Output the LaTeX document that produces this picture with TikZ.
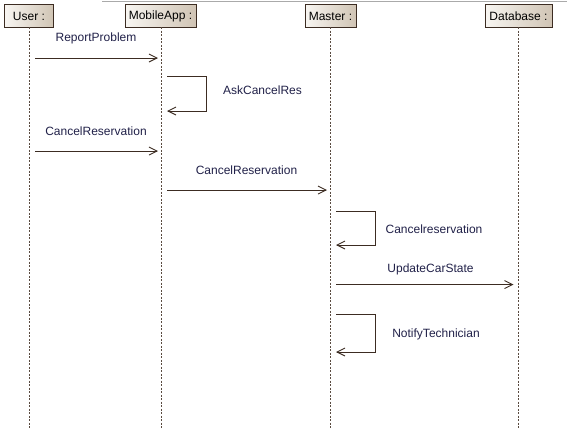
\documentclass[tikz,border=0pt]{standalone}
\usepackage{fontspec}
\setmainfont{Liberation Sans}
\usetikzlibrary{arrows.meta}
\definecolor{linec}{RGB}{60,44,34}
\definecolor{lifec}{RGB}{90,75,65}
\definecolor{txtc}{RGB}{32,32,72}
\definecolor{hdlight}{RGB}{248,246,242}
\definecolor{hddark}{RGB}{208,196,180}
\definecolor{framec}{RGB}{170,170,170}
\tikzset{
  header/.style={draw=linec, line width=0.9pt, left color=hdlight, right color=hddark,
    minimum height=23pt, inner sep=0pt, text=black, font=\fontsize{12}{14}\selectfont, anchor=north west},
  lifeline/.style={draw=lifec, line width=0.8pt, dash pattern=on 2pt off 1.5pt},
  msg/.style={draw=linec, line width=0.9pt, -{Straight Barb[length=8pt,width=8pt,line width=0.9pt]}},
  lbl/.style={text=txtc, font=\fontsize{12}{14}\selectfont, inner sep=0pt}
}
\begin{document}
\begin{tikzpicture}[x=1pt,y=-1pt]
\useasboundingbox (0,0) rectangle (567,429);
\draw[framec, line width=1pt] (102,1) -- (567,1);
% headers
\node[header, minimum width=49pt] (user) at (4,4) {User :};
\node[header, minimum width=71pt] (mobile) at (124.5,4) {MobileApp :};
\node[header, minimum width=51pt] (master) at (304.5,4) {Master :};
\node[header, minimum width=67pt] (db) at (484.5,4) {Database :};
% lifeline ends
\coordinate (userE) at (29,428);
\coordinate (mobileE) at (161.5,428);
\coordinate (masterE) at (330.5,428);
\coordinate (dbE) at (518.5,428);
\coordinate (userS) at (29,27);
\coordinate (mobileS) at (161.5,27);
\coordinate (masterS) at (330.5,27);
\coordinate (dbS) at (518.5,27);
\draw[lifeline] (userS) -- (userE);
\draw[lifeline] (mobileS) -- (mobileE);
\draw[lifeline] (masterS) -- (masterE);
\draw[lifeline] (dbS) -- (dbE);
% message 1
\coordinate (a1) at (35,58); \coordinate (b1) at (158,58);
\draw[msg] (a1) -- (b1);
\node[lbl] (l1) at (96,38) {ReportProblem};
% self AskCancelRes
\coordinate (a2) at (167,76); \coordinate (b2) at (167,111);
\draw[msg] (a2) -- (206.5,76) -- (206.5,111) -- (b2);
\node[lbl] (l2) at (262.5,90.5) {AskCancelRes};
% message 3
\coordinate (a3) at (35,151); \coordinate (b3) at (158,151);
\draw[msg] (a3) -- (b3);
\node[lbl] (l3) at (96,131) {CancelReservation};
% message 4
\coordinate (a4) at (167,190); \coordinate (b4) at (327,190);
\draw[msg] (a4) -- (b4);
\node[lbl] (l4) at (246.5,170) {CancelReservation};
% self Cancelreservation
\coordinate (a5) at (336,211.5); \coordinate (b5) at (336,245);
\draw[msg] (a5) -- (375.5,211.5) -- (375.5,245) -- (b5);
\node[lbl] (l5) at (434,229.5) {Cancelreservation};
% UpdateCarState
\coordinate (a6) at (336,284.5); \coordinate (b6) at (513.5,284.5);
\draw[msg] (a6) -- (b6);
\node[lbl] (l6) at (430.5,269) {UpdateCarState};
% self NotifyTechnician
\coordinate (a7) at (336,314.5); \coordinate (b7) at (336,352);
\draw[msg] (a7) -- (375.5,314.5) -- (375.5,352) -- (b7);
\node[lbl] (l7) at (436,334.5) {NotifyTechnician};
\end{tikzpicture}
\end{document}
